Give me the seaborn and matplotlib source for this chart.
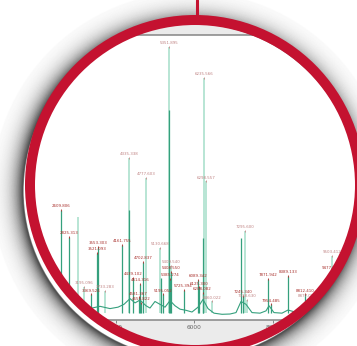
import numpy as np
import pandas as pd
import seaborn as sns
import matplotlib.pyplot as plt
from matplotlib.patches import Circle
from matplotlib.lines import Line2D

# profile of the summed spectrum (m/z, relative intensity)
base_mz = [1949, 2330, 2585, 2712, 2966, 3220, 3398, 3601, 3856, 4059, 4211, 4364, 4491, 4618,
           4771, 4872, 4999, 5127, 5254, 5381, 5508, 5635, 5788, 5940, 6093, 6220, 6347, 6499,
           6703, 6906, 7059, 7186, 7313, 7465, 7669, 7821, 7897, 8024, 8227, 8380, 8456, 8634,
           8939, 9447, 9955]
base_int = [2.8, 3.0, 3.5, 4.0, 3.2, 3.6, 4.2, 4.8, 4.0, 4.5, 5.5, 7.5, 6.0, 7.0,
            5.0, 4.2, 6.5, 5.5, 4.5, 6.8, 5.0, 3.8, 3.4, 2.8, 4.5, 7.2, 4.0, 2.4,
            2.0, 2.1, 2.6, 6.5, 5.5, 2.6, 2.4, 3.2, 5.0, 2.6, 2.4, 3.5, 3.2, 2.5,
            3.0, 2.6, 2.4]

# centroided peaks, sample A (dark)
dark_mz = [2609.806, 2825.313, 3369.524, 3521.093, 3553.303, 4161.755, 4330.0, 4439.102,
           4581.367, 4614.316, 4653.822, 4702.837, 5160.0, 5195.052, 5350.0, 5385.274,
           5408.550, 5725.394, 6089.342, 6125.300, 6208.082, 6220.0, 7178.0, 7245.340,
           7871.942, 7954.485, 8389.133, 8812.410, 9477.250]
dark_int = [38.6, 29.1, 9.0, 23.5, 25.6, 26.3, 38.6, 14.7,
            8.0, 12.6, 6.0, 20.4, 14.7, 9.0, 73.7, 14.4,
            17.0, 10.5, 14.0, 11.5, 9.5, 28.8, 28.8, 8.5,
            14.4, 5.5, 15.4, 9.0, 17.0]
dark_lbl = ["2609.806", "2825.313", "3369.524", "3521.093", "3553.303", "4161.755", "", "4439.102",
            "4581.367", "4614.316", "4653.822", "4702.837", "", "5195.052", "", "5385.274",
            "5408.550", "5725.394", "6089.342", "6125.300", "6208.082", "", "", "7245.340",
            "7871.942", "7954.485", "8389.133", "8812.410", "9477.250"]

# centroided peaks, sample B (light)
light_mz = [3042.0, 3195.096, 3733.283, 4335.338, 4777.603, 5130.668, 5351.895, 5409.540,
            6235.566, 6298.557, 6460.022, 7295.600, 7338.630, 8877.050, 9503.412]
light_int = [36.1, 11.6, 10.2, 56.8, 50.0, 25.3, 95.8, 19.0,
             84.9, 48.6, 6.5, 31.2, 7.0, 7.0, 22.5]
light_lbl = ["", "3195.096", "3733.283", "4335.338", "4777.603", "5130.668", "5351.895", "5409.540",
             "6235.566", "6298.557", "6460.022", "7295.600", "7338.630", "8877.050", "9503.412"]

x_ticks = [4000, 6000, 8000]

sns.set_style("white")
W, H = 357, 346
fig = plt.figure(figsize=(W / 100, H / 100), dpi=100, facecolor="#ebebeb")
ax = fig.add_axes([32 / W, 26 / H, 1 - 32 / W, 285 / H])
ax.set_facecolor("white")

light_c = "#ace0cd"
dark_c = "#35a07d"
ax.vlines(light_mz, 2.5, light_int, color=light_c, lw=1.2, zorder=1)
prof = pd.DataFrame({"mz": base_mz, "int": base_int})
sns.lineplot(data=prof, x="mz", y="int", color=dark_c, lw=0.8, ax=ax, zorder=2)
ax.vlines(dark_mz, 2.5, dark_int, color=dark_c, lw=0.9, zorder=3)

for m, h, s in zip(light_mz, light_int, light_lbl):
    if s:
        ax.plot(m, h, "|", color="#c98a8a", ms=2, mew=0.6, zorder=4)
        ax.annotate(s, (m, h), xytext=(0, 1.2), textcoords="offset points", ha="center",
                    va="bottom", fontsize=2.9, color="#c08484", zorder=5)
for m, h, s in zip(dark_mz, dark_int, dark_lbl):
    if s:
        ax.plot(m, h, "|", color="#b22a2a", ms=2, mew=0.6, zorder=4)
        ax.annotate(s, (m, h), xytext=(0, 1.2), textcoords="offset points", ha="center",
                    va="bottom", fontsize=2.9, color="#a8302c", zorder=5)

ax.set_xlim(1873, 10134)
ax.set_ylim(0, 100)
ax.set_xticks(x_ticks)
ax.set_xticklabels([str(t) for t in x_ticks])
ax.set_yticks([])
ax.set_xlabel("")
ax.set_ylabel("")
ax.tick_params(axis="x", length=2, width=0.6, color="#777777", labelsize=4.2,
               labelcolor="#666666", pad=1.5, bottom=True)
for side in ["top", "bottom", "left"]:
    ax.spines[side].set_color("#858585")
    ax.spines[side].set_linewidth(1.1)
ax.spines["right"].set_visible(False)

# magnifier: white mask outside the lens, soft shadow, red ring and pin
cx, cy = 1.95, (H - 185) / 100
mask = Circle((cx, cy), 2.21, transform=fig.dpi_scale_trans, fill=False,
              edgecolor="white", lw=86, zorder=10)
fig.add_artist(mask)
for i in range(45):
    sh = Circle((cx - 0.04, cy - 0.06), (168 + i * 0.7) / 100, transform=fig.dpi_scale_trans,
                fill=False, edgecolor="black", lw=1.0,
                alpha=0.5 * np.exp(-i / 11.0), zorder=11)
    fig.add_artist(sh)
ring = Circle((cx, cy), 1.65, transform=fig.dpi_scale_trans, fill=False,
              edgecolor="#c41230", lw=7.2, zorder=12)
fig.add_artist(ring)
pin = Line2D([1.965, 1.965], [H / 100, (H - 18) / 100], transform=fig.dpi_scale_trans,
             color="#c41230", lw=2.2, zorder=12)
fig.add_artist(pin)

fig.savefig("out.png", dpi=100)
